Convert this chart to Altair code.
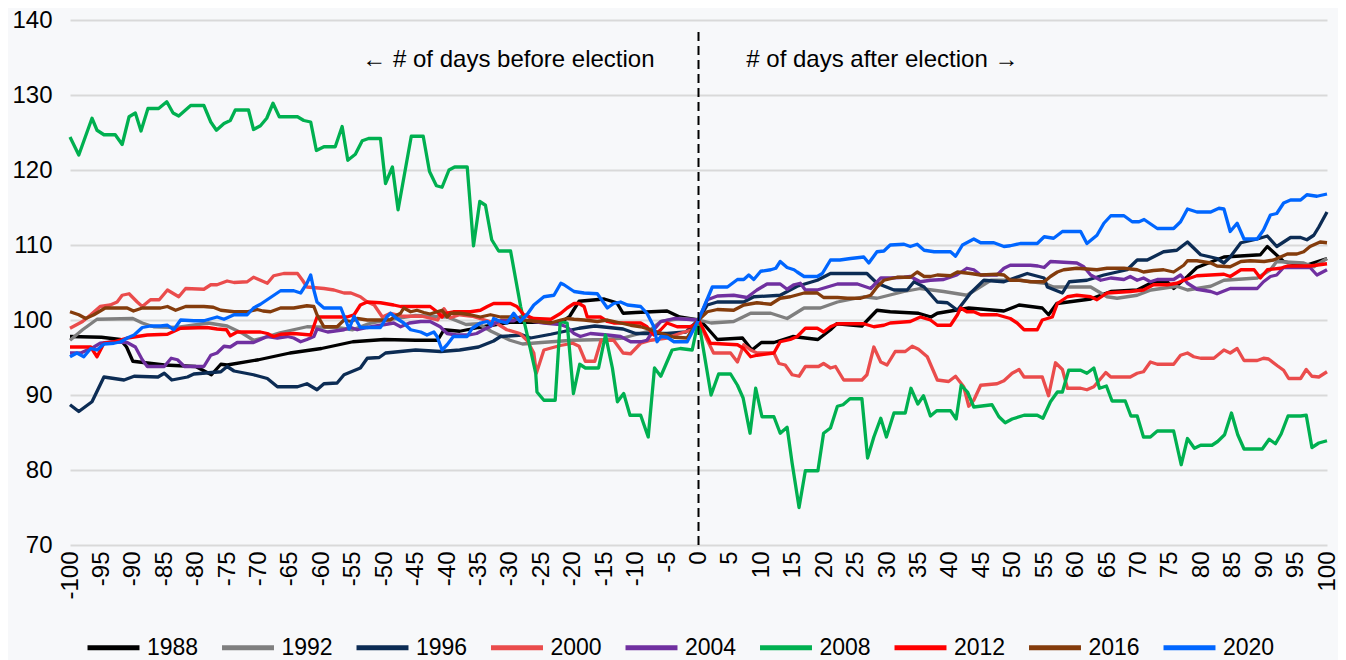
import altair as alt
import pandas as pd

years = ["1988", "1992", "1996", "2000", "2004", "2008", "2012", "2016", "2020"]
colors = ["#000000", "#7F7F7F", "#0C2C54", "#EA4C4C", "#7030A0", "#00B050", "#FF0000", "#843C0C", "#0066FF"]

x_ticks = list(range(-100, 101, 5))
y_ticks = list(range(70, 141, 10))

s1988 = [(-100, 97.8), (-95, 97.7), (-92, 97.4), (-91, 96.4), (-90, 94.5), (-85, 94.0), (-80, 93.8), (-77.5, 92.7),
         (-76, 94.1), (-75, 94.0), (-70, 94.7), (-65, 95.6), (-60, 96.2), (-55, 97.1), (-50, 97.4), (-45, 97.3),
         (-41.5, 97.3), (-40.5, 98.7), (-38, 98.5), (-35, 99.0), (-30, 99.7), (-25, 99.7), (-22, 99.6), (-20.5, 100.5),
         (-19, 102.5), (-15, 102.8), (-13, 102.3), (-12, 100.9), (-10, 101.0), (-5, 101.2), (-3, 100.4), (0, 100),
         (1, 99.3), (3, 97.4), (7, 97.6), (8.5, 96.0), (10, 97.0), (12, 97.0), (15, 97.8), (17, 97.6), (19, 97.4),
         (21, 98.7), (22, 99.5), (26, 99.2), (28.4, 101.3), (30.5, 101.1), (35, 100.9), (37, 100.4), (38, 100.9),
         (43, 101.6), (48.6, 101.2), (51, 102.0), (54.7, 101.6), (55.7, 100.7), (57, 102.2), (62.4, 102.8),
         (65.6, 103.8), (69.8, 104.0), (72.4, 105.1), (74.6, 105.1), (75.6, 104.2), (77.8, 105.8), (79.3, 107.0),
         (83.6, 108.4), (89.4, 108.7), (90.5, 109.8), (93.1, 107.8), (96.3, 107.2), (100, 108.2)]

s1992 = [(-100, 97.3), (-98, 98.7), (-95.7, 100.1), (-90, 100.2), (-88.5, 99.6), (-86.7, 99.1), (-83, 99.0),
         (-78, 99.6), (-75, 99.2), (-72.5, 98.2), (-70.8, 97.3), (-68.5, 97.8), (-66.6, 98.3), (-62.3, 99.1),
         (-57.6, 99.0), (-55, 98.7), (-52.5, 99.5), (-49, 100.1), (-45, 100.6), (-40, 100.4), (-37, 99.4),
         (-35, 99.5), (-33, 98.5), (-30, 97.3), (-28, 96.8), (-25, 97.0), (-20, 97.3), (-15, 97.4), (-12, 97.6),
         (-8, 98.5), (-6, 99.8), (-3, 100.2), (0, 100), (2, 99.6), (5.6, 99.8), (8.3, 100.9), (11.5, 100.9),
         (14.1, 100.2), (16.8, 101.6), (19.4, 101.6), (22.1, 102.4), (26.3, 103.1), (28.4, 102.9), (32.7, 103.8),
         (35.3, 104.2), (39, 103.8), (42.7, 103.3), (46.5, 105.3), (51, 105.3), (55, 104.9), (56.5, 104.4),
         (62.4, 104.4), (65, 103.1), (66.6, 102.9), (69.8, 103.3), (72, 104.0), (76.1, 104.5), (77.8, 104.0),
         (81.5, 104.5), (83.6, 105.3), (88.9, 105.6), (91, 106.7), (92, 107.8), (96.3, 107.6), (97.9, 107.1),
         (100, 108.2)]

s1996 = [(-100, 88.7), (-98.6, 87.8), (-96.5, 89.1), (-94.6, 92.4), (-91.4, 92.0), (-89.8, 92.5), (-86, 92.4),
         (-85, 92.9), (-83.8, 92.0), (-81.3, 92.4), (-80.3, 92.8), (-76, 93.1), (-75, 93.8), (-73.9, 93.2),
         (-70.8, 92.7), (-68.6, 92.2), (-67, 91.1), (-63.8, 91.1), (-62.3, 91.5), (-60.7, 90.7), (-59.6, 91.5),
         (-57.5, 91.6), (-56.4, 92.7), (-53.8, 93.6), (-52.7, 94.9), (-50.8, 95.0), (-49.8, 95.6), (-45, 96.0),
         (-41, 95.8), (-38, 96.0), (-35, 96.4), (-32.6, 97.2), (-31.5, 97.8), (-28, 98.0), (-26.7, 97.6),
         (-23.5, 98.1), (-19, 98.9), (-16.5, 99.2), (-12, 98.8), (-10, 98.2), (-5, 98.2), (-2, 98.4), (0, 100),
         (1.4, 102.0), (3, 102.4), (7.2, 102.4), (8.8, 103.1), (13, 103.3), (15.7, 104.5), (18.9, 105.3),
         (21, 106.2), (26.8, 106.2), (28.4, 104.9), (31.1, 104.0), (33.2, 104.0), (34.3, 105.1), (35.9, 104.4),
         (38, 102.4), (39.6, 102.3), (41.2, 101.3), (43.3, 103.6), (45.4, 105.3), (48.6, 105.1), (52.3, 106.2),
         (55, 105.6), (55.5, 104.4), (57.9, 103.6), (59, 105.1), (61.8, 105.3), (64.5, 106.0), (68.2, 106.7),
         (69.8, 108.0), (71.4, 108.0), (74, 109.1), (76.1, 109.3), (77.8, 110.4), (79.9, 108.7), (82.5, 108.2),
         (83.6, 107.6), (84.6, 108.4), (86.3, 110.3), (88.9, 110.8), (90.5, 111.2), (92, 109.8), (94.2, 111.0),
         (95.8, 111.0), (96.8, 110.7), (97.9, 111.3), (98.7, 112.4), (100, 114.4)]

s2000 = [(-100, 98.9), (-98, 99.8), (-96.7, 100.7), (-95.2, 101.8), (-93.6, 102.0), (-92.5, 102.4), (-91.7, 103.3),
         (-90.6, 103.5), (-89.3, 102.4), (-88.5, 101.8), (-87.2, 102.7), (-85.8, 102.7), (-84.5, 104.0),
         (-82.7, 103.1), (-81.6, 104.2), (-78.7, 104.1), (-77.6, 104.7), (-76.6, 104.7), (-75, 105.2),
         (-73.9, 105.0), (-71.8, 105.1), (-70.8, 105.7), (-69.7, 105.3), (-68.6, 104.9), (-67.6, 105.9),
         (-66, 106.2), (-63.8, 106.2), (-63, 105.3), (-62.3, 104.4), (-59.6, 104.2), (-58, 104.0), (-56.4, 103.6),
         (-55.3, 103.6), (-53.8, 103.1), (-52.7, 102.4), (-51.6, 102.0), (-50.3, 100.4), (-49, 100.9),
         (-47, 100.5), (-44, 100.5), (-41.5, 100.0), (-40.5, 101.5), (-39.5, 100.3), (-38, 100.7), (-36, 100.5),
         (-34, 100.0), (-32, 99.5), (-30.5, 98.7), (-28.4, 98.2), (-27.3, 97.3), (-26.2, 95.6), (-25.8, 92.9),
         (-24.6, 96.0), (-22, 96.6), (-20, 96.9), (-19, 96.5), (-18, 94.5), (-16.5, 94.5), (-15.5, 97.3),
         (-13.5, 97.3), (-12, 95.6), (-10.8, 95.5), (-9.2, 96.9), (-7.6, 97.3), (-5, 97.6), (-3, 98.2),
         (-1, 98.7), (0, 100), (1.4, 97.3), (2.4, 95.6), (5.1, 95.6), (6.2, 94.4), (7.2, 96.7), (8.3, 96.0),
         (9.3, 95.6), (12, 95.6), (12.8, 94.2), (13.8, 94.0), (14.9, 92.7), (16, 92.5), (17, 93.8), (19.1, 93.8),
         (19.9, 94.2), (21, 93.6), (21.8, 93.8), (23.1, 92.0), (26, 92.0), (26.8, 92.7), (27.9, 96.4), (29, 94.4),
         (30, 94.0), (31.3, 95.8), (32.9, 95.8), (34, 96.5), (35, 96.1), (36.4, 95.1), (38, 92.0), (39.8, 91.8),
         (40.9, 92.5), (42.2, 91.1), (43, 88.5), (43.8, 89.3), (44.9, 91.3), (47.5, 91.5), (48.6, 91.9),
         (49.9, 92.9), (51, 93.4), (51.8, 92.4), (54.7, 92.4), (55.7, 89.9), (56.8, 94.3), (57.9, 93.4),
         (58.7, 90.9), (60.8, 90.9), (61.8, 90.7), (62.9, 91.1), (64, 92.2), (64.8, 93.0), (65.6, 92.4),
         (68.7, 92.4), (69.8, 92.9), (70.8, 93.1), (71.9, 94.4), (73, 94.1), (75.6, 94.1), (76.7, 95.3),
         (77.8, 95.6), (78.8, 95.1), (79.9, 94.9), (82, 94.9), (83.6, 96.0), (84.6, 95.6), (85.7, 96.2),
         (86.8, 94.6), (88.9, 94.6), (89.9, 94.9), (90.7, 94.8), (92.1, 93.9), (93.1, 93.3), (93.9, 92.2),
         (95.8, 92.2), (96.7, 93.4), (97.6, 92.5), (98.7, 92.4), (100, 93.1)]

s2004 = [(-100, 95.6), (-98.3, 95.6), (-96.2, 96.4), (-95.2, 96.9), (-93, 97.1), (-90.9, 97.0), (-89.6, 96.4),
         (-88.5, 94.7), (-87.7, 93.8), (-85, 93.8), (-83.9, 94.9), (-82.9, 94.7), (-81.8, 93.8), (-78.7, 93.8),
         (-77.6, 95.3), (-76.6, 95.6), (-75.5, 96.5), (-74.5, 96.4), (-73.4, 97.0), (-70.8, 97.0), (-69.7, 97.4),
         (-68.6, 97.8), (-67, 97.6), (-65.4, 97.8), (-64.4, 97.6), (-63.3, 97.1), (-62.3, 97.4), (-61.2, 97.8),
         (-60.7, 98.8), (-59, 98.4), (-56.4, 98.7), (-55.3, 99.0), (-54.3, 98.7), (-52.7, 99.0), (-50.6, 99.3),
         (-48.5, 99.6), (-47.4, 99.1), (-46, 99.6), (-44.2, 99.8), (-42.7, 99.8), (-41.1, 99.1), (-40, 98.2),
         (-38.5, 98.0), (-36.5, 98.0), (-35.3, 98.2), (-34.2, 98.7), (-33.2, 99.1), (-32.3, 99.6), (-31.5, 99.9),
         (-29.4, 99.9), (-28.4, 100.4), (-27.3, 100.7), (-26.2, 99.8), (-24.6, 99.6), (-22, 99.4), (-21, 99.1),
         (-19.8, 98.2), (-18.8, 97.8), (-17.2, 98.2), (-14.5, 98.0), (-12.4, 97.8), (-10.8, 97.1), (-9.2, 97.1),
         (-8.2, 97.3), (-7.1, 98.7), (-6, 99.8), (-3.9, 100.2), (0, 100), (1.4, 102.7), (3, 103.2), (5.6, 103.3),
         (7.7, 103.0), (9.3, 104.0), (10.9, 104.8), (13, 104.8), (14.1, 104.1), (15.2, 104.7), (16.2, 104.9),
         (17, 104.0), (18.9, 104.0), (20.5, 104.4), (22.1, 104.8), (25.3, 104.8), (27.4, 104.2), (29, 105.6),
         (30.5, 105.6), (32.7, 105.7), (33.7, 105.8), (35.3, 105.1), (36.9, 105.3), (39, 105.4), (41.1, 106.0),
         (42.7, 106.9), (43.8, 106.7), (44.9, 106.0), (47.5, 106.0), (48.6, 106.9), (49.6, 107.3), (52.8, 107.3),
         (54, 107.2), (55, 107.0), (56, 107.8), (60.2, 107.6), (61.3, 107.1), (62.4, 106.0), (64, 105.3),
         (65.6, 105.6), (67.7, 105.4), (68.7, 105.8), (69.8, 105.3), (70.8, 105.6), (71.9, 105.1), (73, 105.4),
         (75.6, 105.4), (76.7, 106.0), (77.8, 104.9), (79.3, 104.1), (81.5, 103.8), (82.5, 103.5), (84.6, 104.2),
         (88.9, 104.2), (89.9, 105.1), (91, 105.8), (92, 106.0), (93.1, 107.0), (97.3, 107.0), (98.4, 106.0),
         (100, 106.7)]

s2008 = [(-100, 124.4), (-98.6, 122.0), (-96.5, 126.9), (-95.7, 125.3), (-94.6, 124.7), (-92.8, 124.7),
         (-91.7, 123.4), (-90.6, 127.1), (-89.6, 127.6), (-88.7, 125.2), (-87.6, 128.2), (-85.9, 128.2),
         (-84.6, 129.1), (-83.6, 127.6), (-82.7, 127.2), (-80.8, 128.6), (-78.7, 128.6), (-77.6, 126.4),
         (-76.7, 125.3), (-75.5, 126.2), (-74.5, 126.6), (-73.7, 128.0), (-71.6, 128.0), (-70.8, 125.4),
         (-69.7, 125.9), (-68.7, 126.9), (-67.7, 128.9), (-66.7, 127.1), (-63.8, 127.1), (-62.8, 126.6),
         (-61.7, 126.4), (-60.8, 122.6), (-59.6, 123.1), (-57.8, 123.1), (-56.7, 125.8), (-55.8, 121.3),
         (-54.6, 122.1), (-53.5, 123.9), (-52.5, 124.2), (-50.6, 124.2), (-49.8, 118.2), (-48.7, 120.4),
         (-47.8, 114.7), (-45.7, 124.5), (-43.8, 124.5), (-42.8, 119.8), (-41.7, 117.9), (-40.8, 117.7),
         (-39.7, 120.0), (-38.8, 120.4), (-36.8, 120.4), (-35.8, 109.9), (-34.8, 115.8), (-33.9, 115.3),
         (-32.9, 110.7), (-31.8, 109.2), (-29.9, 109.2), (-28.3, 101.8), (-27.3, 98.2), (-25.9, 92.9),
         (-25.7, 90.4), (-24.6, 89.3), (-22.8, 89.3), (-22.0, 99.8), (-20.9, 99.6), (-19.9, 90.2), (-18.9, 94.1),
         (-18.0, 93.6), (-15.9, 93.6), (-14.8, 98.0), (-13.7, 93.6), (-12.9, 89.1), (-11.9, 90.2), (-10.9, 87.3),
         (-9.2, 87.3), (-8.0, 84.4), (-7.0, 93.6), (-6.0, 92.5), (-4.2, 96.0), (-2.9, 96.2), (-1.0, 96.0),
         (0, 100), (2.0, 90.0), (3.2, 92.8), (5.1, 92.8), (6.2, 91.3), (7.1, 89.6), (8.2, 84.9), (9.1, 90.9),
         (10.1, 87.1), (12.0, 87.1), (13.0, 84.9), (14.1, 85.7), (14.9, 80.9), (16.0, 75.0), (17.0, 79.9),
         (19.0, 79.9), (19.9, 84.9), (21.0, 85.6), (22.1, 88.5), (23.0, 88.7), (24.1, 89.5), (26.0, 89.5),
         (26.9, 81.6), (27.9, 84.4), (29.0, 86.9), (29.9, 84.4), (31.1, 87.6), (32.9, 87.6), (33.8, 90.9),
         (34.9, 88.8), (35.8, 89.9), (36.9, 87.2), (37.9, 87.9), (40.1, 87.9), (41.0, 86.8), (41.8, 91.3),
         (42.8, 90.4), (43.8, 88.4), (46.7, 88.7), (47.8, 87.1), (48.8, 86.3), (49.9, 86.8), (51.8, 87.3),
         (53.9, 87.3), (54.8, 86.9), (56.0, 89.1), (57.1, 90.4), (57.9, 90.4), (58.9, 93.3), (60.8, 93.3),
         (61.8, 92.9), (62.9, 93.6), (63.8, 90.9), (64.9, 91.2), (65.8, 89.2), (67.9, 89.2), (68.8, 87.2),
         (69.8, 87.2), (70.8, 84.4), (71.9, 84.4), (73.0, 85.2), (75.6, 85.2), (76.8, 80.7), (77.8, 84.2),
         (78.9, 82.9), (79.9, 83.3), (81.7, 83.3), (82.6, 83.8), (83.7, 84.7), (84.8, 87.6), (85.8, 84.7),
         (86.8, 82.8), (89.7, 82.8), (90.8, 84.1), (91.8, 83.5), (92.7, 84.8), (93.8, 87.2), (95.8, 87.2),
         (96.7, 87.3), (97.6, 83.0), (98.7, 83.6), (100, 83.9)]

s2012 = [(-100, 96.4), (-96.7, 96.4), (-95.7, 95.1), (-94.6, 96.9), (-93, 97.1), (-90.9, 97.6), (-87.7, 98.0),
         (-84.5, 98.1), (-82.4, 98.9), (-78.2, 99.0), (-76.6, 98.8), (-75.1, 98.7), (-74.5, 97.9), (-73.4, 98.4),
         (-69.7, 98.4), (-68.6, 98.2), (-67.6, 97.8), (-66.5, 98.1), (-64.4, 98.2), (-61.7, 98.0), (-60.7, 100.4),
         (-55.9, 100.4), (-54.8, 100.7), (-53.8, 102.0), (-52.7, 102.4), (-50.6, 102.3), (-48.5, 102.0),
         (-47.4, 101.8), (-42.7, 101.8), (-41.6, 101.1), (-40.8, 100.4), (-40.3, 100.9), (-39, 101.1),
         (-36.3, 101.1), (-34.7, 101.3), (-33.6, 101.8), (-32.6, 102.2), (-29.9, 102.2), (-28.9, 101.8),
         (-27.8, 100.7), (-26.2, 100.2), (-23.5, 100.1), (-21.9, 100.9), (-20.9, 101.6), (-19.8, 102.2),
         (-19, 102.2), (-18.2, 101.8), (-17.7, 100.4), (-15.6, 100.4), (-14.5, 99.8), (-13.5, 99.6), (-9.2, 99.6),
         (-8.2, 99.1), (-7.1, 98.0), (-6, 98.7), (-5, 99.6), (-3.4, 99.1), (-1.5, 99.1), (-0.7, 99.3), (0, 100),
         (1.9, 96.9), (6.2, 96.7), (7.2, 96.2), (8.3, 95.1), (9.3, 95.3), (12, 95.6), (13, 97.1), (14.6, 97.4),
         (15.7, 97.8), (17, 98.9), (18.9, 98.9), (19.9, 98.4), (21, 99.1), (22.1, 99.5), (26.3, 99.5),
         (27.9, 99.1), (29.5, 99.3), (30.5, 99.6), (33.7, 99.8), (35.3, 100.4), (36.9, 100.0), (38, 99.3),
         (40.1, 99.3), (41.2, 100.7), (41.7, 101.6), (42.7, 101.1), (43.8, 101.1), (44.9, 100.7), (47.5, 100.7),
         (49.6, 100.2), (50.7, 99.6), (51.8, 98.7), (53.9, 98.7), (54.7, 100.0), (56.3, 100.4), (57.1, 102.2),
         (58.7, 103.1), (60.2, 103.3), (62.4, 103.1), (63.4, 102.7), (65, 103.6), (68.7, 103.8), (70.8, 104.0),
         (72.4, 104.7), (74.6, 104.7), (76.1, 104.9), (77.2, 105.3), (79.3, 105.9), (83.6, 106.1), (84.6, 105.8),
         (86.3, 106.7), (88.4, 106.7), (89.4, 105.6), (90.5, 106.7), (92.6, 106.9), (93.7, 107.2), (97.3, 107.2),
         (100, 107.5)]

s2016 = [(-100, 101.1), (-98.6, 100.7), (-97.5, 100.2), (-96.2, 100.7), (-94.4, 101.6), (-90.9, 101.6),
         (-89.9, 101.2), (-88.5, 101.6), (-85.6, 101.6), (-84.5, 101.8), (-83.2, 101.3), (-81.6, 101.8),
         (-78.7, 101.8), (-77.2, 101.7), (-76, 101.3), (-73.9, 101.1), (-71.8, 101.1), (-70.2, 101.4),
         (-69.3, 101.2), (-68.1, 101.1), (-66.5, 101.6), (-64.4, 101.6), (-62.3, 101.9), (-61.2, 101.8),
         (-60.7, 100.7), (-59.6, 99.1), (-57.5, 99.1), (-56.4, 100.0), (-55.3, 99.8), (-54.3, 100.2),
         (-52.7, 100.0), (-49, 100.0), (-48.5, 100.4), (-47.4, 100.9), (-46.9, 101.6), (-45.8, 101.1),
         (-44.8, 101.3), (-43.7, 101.0), (-42.7, 100.8), (-41.6, 101.1), (-40.8, 101.3), (-40, 100.4),
         (-39.4, 100.9), (-37.9, 100.9), (-36.3, 100.7), (-34.7, 100.4), (-33.1, 100.7), (-31.5, 100.4),
         (-29.4, 100.4), (-27.8, 100.0), (-25.7, 99.8), (-23.5, 99.6), (-21.9, 100.0), (-20.9, 100.2),
         (-19.8, 100.1), (-18.2, 100.0), (-16.1, 99.8), (-14.5, 100.0), (-12.4, 99.6), (-10.8, 99.3),
         (-9.2, 99.1), (-7.6, 98.7), (-6.6, 98.4), (-3.9, 97.7), (-1.8, 97.6), (0, 100), (1.4, 101.1), (3, 101.4),
         (5.6, 101.3), (7.2, 102.0), (9.3, 102.3), (11.5, 102.1), (13, 102.9), (14.6, 103.1), (16.8, 103.6),
         (18.9, 103.6), (19.9, 103.0), (22.1, 103.0), (23.7, 102.9), (25.8, 102.9), (27.4, 103.3), (28.4, 104.4),
         (29.5, 105.3), (31.6, 105.7), (33.7, 105.7), (34.8, 106.4), (35.9, 105.8), (36.9, 105.8), (38, 106.0),
         (40.1, 105.9), (41.2, 106.4), (43.3, 106.2), (44.9, 106.0), (47.5, 106.1), (48.6, 106.0), (49.6, 105.3),
         (51.2, 105.3), (52.8, 105.1), (55, 105.1), (56, 105.8), (57.1, 106.4), (58.1, 106.7), (60.2, 106.9),
         (61.8, 106.8), (63.4, 106.7), (65, 106.9), (67.7, 106.9), (69.8, 106.7), (70.8, 106.4), (72.4, 106.6),
         (74, 106.7), (75.6, 106.4), (77.2, 107.3), (77.8, 107.9), (79.3, 107.9), (81.5, 107.6), (82.5, 107.2),
         (84.6, 107.1), (86.3, 107.8), (87.8, 107.9), (90, 107.8), (91.5, 108.0), (92.6, 108.4), (93.7, 108.8),
         (95.2, 108.8), (96.3, 109.1), (97.3, 109.8), (98.9, 110.4), (100, 110.3)]

s2020 = [(-100, 95.1), (-98.9, 95.6), (-97.8, 95.1), (-96.7, 96.2), (-95.7, 96.0), (-94.6, 96.8), (-93, 96.9),
         (-91.9, 97.1), (-90.9, 97.6), (-89.8, 98.0), (-88.5, 99.0), (-87.2, 99.2), (-85.6, 99.2), (-84.5, 99.3),
         (-83.5, 98.7), (-82.4, 100.0), (-80.3, 99.9), (-78.7, 99.9), (-76.6, 100.4), (-75.5, 100.1),
         (-73.9, 100.7), (-71.8, 100.7), (-70.8, 101.6), (-69.7, 102.1), (-68.1, 103.0), (-66.5, 103.9),
         (-64.4, 103.9), (-63.3, 103.6), (-62.3, 104.9), (-61.7, 106.0), (-61.2, 104.0), (-60.7, 102.4),
         (-59.6, 101.6), (-56.9, 101.6), (-55.6, 98.8), (-54.8, 100.5), (-53.8, 99.0), (-50.6, 99.0),
         (-49.6, 100.4), (-49, 100.9), (-48, 100.2), (-46.9, 99.6), (-45.8, 98.7), (-44.2, 98.4), (-43.2, 98.0),
         (-42.1, 98.4), (-41.6, 97.8), (-40.8, 96.0), (-40, 96.7), (-39, 97.8), (-36.8, 97.8), (-36, 98.9),
         (-34.7, 99.6), (-33.6, 99.8), (-33, 99.3), (-32.6, 100.2), (-31.5, 99.8), (-30.5, 99.6), (-29.4, 100.9),
         (-28.4, 99.8), (-27.3, 100.7), (-26.2, 102.0), (-24.6, 103.1), (-23, 103.3), (-21.9, 104.9),
         (-21.4, 104.7), (-19.8, 103.8), (-18.2, 103.6), (-16.1, 103.5), (-15, 102.2), (-14.5, 101.6),
         (-13.5, 102.2), (-12.4, 102.4), (-11.3, 102.0), (-9.2, 101.8), (-8.2, 100.9), (-7.1, 99.1), (-6.6, 97.1),
         (-6, 97.8), (-5, 97.7), (-3.9, 97.1), (-1.8, 97.1), (0, 100), (1.1, 102.2), (2.2, 104.4), (4.6, 104.4),
         (5.4, 104.9), (6.2, 105.4), (7.2, 105.4), (8, 106.0), (8.8, 105.4), (9.9, 106.5), (11.5, 106.7),
         (12.3, 106.9), (13, 107.8), (14.1, 107.0), (15.2, 106.7), (15.7, 106.4), (16.8, 105.8), (18.9, 105.8),
         (19.7, 106.2), (21, 108.0), (22.5, 108.0), (24.2, 108.2), (26.3, 108.4), (27.1, 107.6), (28.4, 109.1),
         (29.5, 109.2), (30.5, 110.0), (32.7, 110.1), (33.7, 109.8), (34.8, 110.1), (35.9, 109.3), (37.5, 109.1),
         (40.1, 109.1), (40.9, 108.5), (42, 110.0), (43.8, 110.8), (44.9, 110.3), (47, 110.3), (48.6, 109.8),
         (49.6, 109.9), (51.2, 110.2), (53.9, 110.2), (55, 111.1), (56.5, 110.9), (57.9, 111.8), (60.8, 111.8),
         (61.8, 110.2), (63.4, 111.3), (64.5, 112.9), (65.6, 113.9), (67.7, 113.9), (69, 113.1), (70.1, 113.1),
         (70.9, 113.4), (73, 112.2), (75.6, 112.2), (76.7, 113.1), (77.8, 114.8), (79.3, 114.4), (81.5, 114.4),
         (82.8, 114.9), (83.6, 114.8), (84.6, 111.8), (85.7, 112.9), (86.8, 110.8), (88.9, 110.8), (89.9, 112.0),
         (91, 114.0), (92, 114.2), (93.1, 115.6), (94.2, 116.0), (95.8, 116.0), (96.8, 116.7), (98.4, 116.5),
         (100, 116.8)]

series = [s1988, s1992, s1996, s2000, s2004, s2008, s2012, s2016, s2020]

label_before = "\u2190 # of days before election"
label_after = "# of days after election \u2192"

rows = []
for yr, pts in zip(years, series):
    for d, v in pts:
        rows.append({"year": yr, "day": d, "value": v})
df = pd.DataFrame(rows)

FONT = "Liberation Sans"

x_scale = alt.Scale(domain=[-100, 100], nice=False, zero=False)
y_scale = alt.Scale(domain=[70, 140], nice=False, zero=False)

x_axis = alt.Axis(values=x_ticks, labelAngle=270, grid=False, ticks=False, domain=False,
                  labelPadding=6, labelFontSize=24, labelFont=FONT, labelColor="#000000",
                  title=None, labelOverlap=False, labelBound=False, labelFlush=False,
                  labelExpr="toString(datum.value)")
y_axis = alt.Axis(values=y_ticks, grid=True, gridColor="#D9D9D9", gridWidth=2, ticks=False,
                  domain=False, labelPadding=18, labelFontSize=24, labelFont=FONT,
                  labelColor="#000000", title=None, labelOverlap=False)

lines = alt.Chart(df).mark_line(strokeWidth=3.3, strokeJoin="round").encode(
    x=alt.X("day:Q", scale=x_scale, axis=x_axis),
    y=alt.Y("value:Q", scale=y_scale, axis=y_axis),
    color=alt.Color("year:N", scale=alt.Scale(domain=years, range=colors),
                    legend=alt.Legend(title=None, orient="none", direction="horizontal",
                                      legendX=15, legendY=599, symbolType="stroke",
                                      symbolSize=2700, symbolStrokeWidth=5, labelFontSize=23,
                                      labelFont=FONT, labelColor="#000000", columnPadding=12.5,
                                      labelOffset=5, columns=9)),
    order=alt.Order("day:Q"),
)

rule_df = pd.DataFrame({"day": [0], "lo": [70], "hi": [138.7]})
rule = alt.Chart(rule_df).mark_rule(color="#000000", strokeWidth=2, strokeDash=[9, 5]).encode(
    x=alt.X("day:Q", scale=x_scale, axis=x_axis),
    y=alt.Y("lo:Q", scale=y_scale, axis=y_axis),
    y2="hi:Q",
)

text_df = pd.DataFrame({
    "day": [-7, 7.6],
    "value": [134.7, 134.7],
    "label": [label_before, label_after],
})
text_left = alt.Chart(text_df.iloc[[0]]).mark_text(align="right", baseline="middle", fontSize=24,
                                                   font=FONT, color="#000000").encode(
    x=alt.X("day:Q", scale=x_scale, axis=x_axis), y=alt.Y("value:Q", scale=y_scale, axis=y_axis),
    text="label:N")
text_right = alt.Chart(text_df.iloc[[1]]).mark_text(align="left", baseline="middle", fontSize=24,
                                                    font=FONT, color="#000000").encode(
    x=alt.X("day:Q", scale=x_scale, axis=x_axis), y=alt.Y("value:Q", scale=y_scale, axis=y_axis),
    text="label:N")

chart = alt.layer(lines, rule, text_left, text_right).properties(
    width=1257, height=525,
    padding={"left": 62, "top": 12, "right": 11, "bottom": 115},
    autosize=alt.AutoSizeParams(type="none"),
    background="#F7F8FA",
).configure_view(stroke=None).configure_axis(labelOverlap=False)

chart.save("out.html", embed_options={"renderer": "svg", "actions": False})
